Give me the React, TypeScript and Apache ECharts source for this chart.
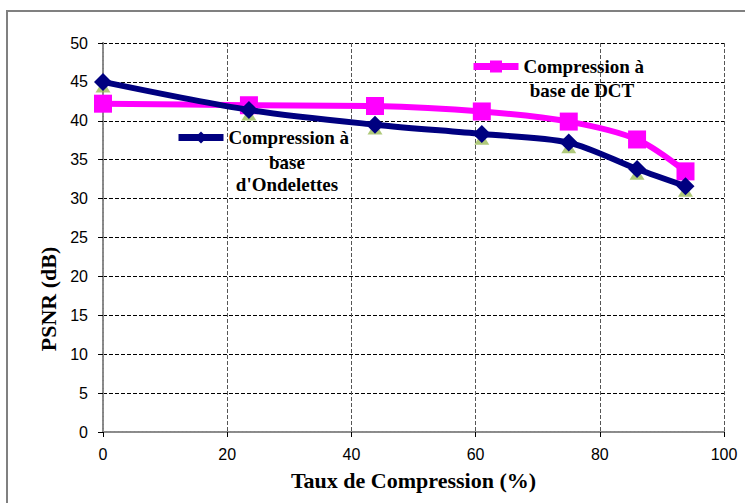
import React, { useEffect, useRef } from "react";
import * as echarts from "echarts";

const xValues = [0, 23.5, 43.8, 61, 75, 86, 93.8];
const waveletPSNR = [45.0, 41.4, 39.5, 38.3, 37.2, 33.8, 31.6];
const dctPSNR = [42.2, 42.0, 41.9, 41.2, 39.9, 37.6, 33.5];
const hiddenPSNR = [44.4, 40.8, 39.0, 37.7, 36.6, 33.2, 31.0];

const xTicks = [0, 20, 40, 60, 80, 100];
const yTicks = [0, 5, 10, 15, 20, 25, 30, 35, 40, 45, 50];

const DCT_NAME = "Compression à base de DCT";
const WAV_NAME = "Compression à base d'Ondelettes";

const serif = "'Liberation Serif', 'Times New Roman', serif";
const sans = "'Liberation Sans', Arial, sans-serif";

export default function App() {
  const ref = useRef<HTMLDivElement>(null);
  useEffect(() => {
    if (!ref.current) return;
    const chart = echarts.init(ref.current, null, { renderer: "svg" });
    const pts = (ys: number[]) => xValues.map((x, i) => [x, ys[i]]);
    const label = (text: string, x: number, y: number) => ({
      type: "text",
      x,
      y,
      style: {
        text,
        font: "bold 19px " + serif,
        fill: "#000",
        align: "center",
        verticalAlign: "middle",
      },
    });
    const legendBase = {
      padding: 0,
      itemWidth: 45,
      itemHeight: 15,
      lineStyle: { width: 7 },
      formatter: () => "Compression à",
      textStyle: { fontFamily: serif, fontWeight: "bold", fontSize: 19, color: "#000" },
    };
    chart.setOption({
      animation: false,
      backgroundColor: "#fff",
      grid: { left: 103, right: 21, top: 43, bottom: 71 },
      xAxis: [
        {
          type: "value",
          min: xTicks[0],
          max: xTicks[xTicks.length - 1],
          interval: 20,
          position: "bottom",
          name: "Taux de Compression (%)",
          nameLocation: "middle",
          nameGap: 37,
          nameTextStyle: { fontFamily: serif, fontWeight: "bold", fontSize: 22, color: "#000" },
          axisLine: { show: true, onZero: false, lineStyle: { color: "#000", width: 1.5 } },
          axisTick: { show: true, length: 5, lineStyle: { color: "#000" } },
          axisLabel: { fontFamily: sans, fontSize: 16, color: "#000", margin: 14 },
          splitLine: { show: true, lineStyle: { color: "#555", type: [4, 2], width: 1 } },
        },
        {
          type: "value",
          min: xTicks[0],
          max: xTicks[xTicks.length - 1],
          position: "top",
          axisLine: { show: true, lineStyle: { color: "#8c8c8c", width: 2, type: [3, 1] } },
          axisTick: { show: false },
          axisLabel: { show: false },
          splitLine: { show: false },
        },
      ],
      yAxis: [
        {
          type: "value",
          min: yTicks[0],
          max: yTicks[yTicks.length - 1],
          interval: 5,
          position: "left",
          axisLine: { show: true, onZero: false, lineStyle: { color: "#000", width: 1.5 } },
          axisTick: { show: true, length: 5, lineStyle: { color: "#000" } },
          axisLabel: { fontFamily: sans, fontSize: 16, color: "#000", margin: 15 },
          splitLine: { show: true, lineStyle: { color: "#000", type: [4, 2], width: 1 } },
        },
        {
          type: "value",
          min: yTicks[0],
          max: yTicks[yTicks.length - 1],
          position: "right",
          axisLine: { show: true, lineStyle: { color: "#8c8c8c", width: 2, type: [3, 1] } },
          axisTick: { show: false },
          axisLabel: { show: false },
          splitLine: { show: false },
        },
      ],
      legend: [
        { ...legendBase, data: [DCT_NAME], left: 470, top: 57 },
        { ...legendBase, data: [WAV_NAME], left: 175, top: 128 },
      ],
      graphic: [
        {
          type: "rect",
          shape: { x: 7, y: 11, width: 760, height: 520 },
          style: { fill: "none", stroke: "#808080", lineWidth: 2 },
          silent: true,
          z: -10,
        },
        {
          type: "text",
          x: 48,
          y: 299,
          rotation: Math.PI / 2,
          style: {
            text: "PSNR (dB)",
            font: "bold 22px " + serif,
            fill: "#000",
            align: "center",
            verticalAlign: "middle",
          },
        },
        label("base de DCT", 582, 90),
        label("base", 287, 162),
        label("d'Ondelettes", 287, 184),
      ],
      series: [
        {
          name: "hidden",
          type: "scatter",
          data: pts(hiddenPSNR),
          symbol: "triangle",
          symbolSize: [15, 12],
          itemStyle: { color: "#9bbb59" },
          z: 1,
          silent: true,
        },
        {
          name: WAV_NAME,
          type: "line",
          data: pts(waveletPSNR),
          smooth: 0.3,
          symbol: "diamond",
          symbolSize: 18,
          lineStyle: { color: "#000080", width: 6 },
          itemStyle: { color: "#000080" },
          z: 3,
        },
        {
          name: DCT_NAME,
          type: "line",
          data: pts(dctPSNR),
          smooth: 0.3,
          symbol: "rect",
          symbolSize: 18,
          lineStyle: { color: "#ff00ff", width: 6 },
          itemStyle: { color: "#ff00ff" },
          z: 2,
        },
      ],
    });
    return () => chart.dispose();
  }, []);
  return <div ref={ref} style={{ width: 745, height: 503, position: "fixed", left: 0, top: 0 }} />;
}
